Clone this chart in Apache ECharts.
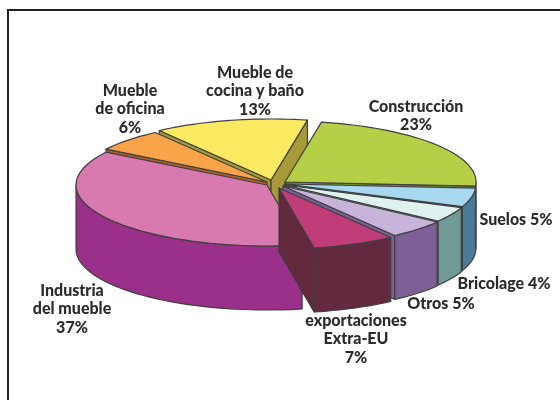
<!DOCTYPE html>
<html><head><meta charset="utf-8">
<style>html,body{margin:0;padding:0;background:#fff}#c{width:560px;height:400px}</style>
<script src="https://cdn.jsdelivr.net/npm/echarts@6/dist/echarts.min.js"></script>
</head><body><div id="c"></div>
<script>
const categories = ['Construcción','Suelos','Bricolage','Otros','exportaciones\nExtra-EU','Industria\ndel mueble','Mueble\nde oficina','Mueble de\ncocina y baño'];
const shares = [23,5,4,5,7,37,6,13];
const topColors = ['#b5d046','#a7d8ef','#dff2f0','#c8b4da','#c13d7a','#d87ab0','#f9a449','#fbe961'];
const sideColors = ['#7f9430','#4a7a98','#6f9a96','#7f5f98','#632a3f','#9b308a','#b0612a','#a79a38'];
const apexX = [285,285,284,283,279,267,267,271];
const apexY = [182,184,185,186,188,185,182,180];
const labelX = [416,516,504,441,356,72,130,255];
const labelY = [116,220,284,304,339,309,109,91];
const drawOrder = [7,6,0,1,2,3,5,4];
const oneLine = [false,true,true,true,false,false,false,false];
const startDeg = -79, rx = 191, ry = 61, depth = 64, edge = '#3f3f3f';

const total = shares.reduce((a,b)=>a+b,0);
const from = [], to = [];
shares.reduce((acc,v,i)=>{from[i]=acc; to[i]=acc+v/total*360; return to[i];}, startDeg);

function pt(i,deg,dz){const t=deg*Math.PI/180;return [apexX[i]+rx*Math.cos(t),apexY[i]+ry*Math.sin(t)+dz];}
function arc(i,a,b,dz){const out=[];const n=Math.max(2,Math.ceil(Math.abs(b-a)/2));for(let k=0;k<=n;k++)out.push(pt(i,a+(b-a)*k/n,dz));return out;}
function poly(points,fill,w){return {type:'polygon',shape:{points},style:{fill,stroke:edge,lineWidth:w||1.2,lineJoin:'round'}};}
function cut(i,deg){const p=pt(i,deg,0),q=pt(i,deg,depth);return poly([[apexX[i],apexY[i]],p,q,[apexX[i],apexY[i]+depth]],sideColors[i]);}
function cosd(d){return Math.cos(d*Math.PI/180);}

function renderItem(params,api){
  const i=api.value(0), a=from[i], b=to[i], kids=[];
  if(cosd(a)<0) kids.push(cut(i,a));
  if(cosd(b)>0) kids.push(cut(i,b));
  const lo=Math.max(a,0), hi=Math.min(b,180);
  if(hi>lo) kids.push(poly(arc(i,lo,hi,0).concat(arc(i,hi,lo,depth)),sideColors[i]));
  kids.push(poly([[apexX[i],apexY[i]]].concat(arc(i,a,b,0)),topColors[i]));
  const text=categories[i]+(oneLine[i]?' ':'\n')+api.value(1)+'%';
  kids.push({type:'text',z2:10,style:{text,x:labelX[i],y:labelY[i],align:'center',verticalAlign:'middle',
    font:'900 16px Lato',lineHeight:18.5,fill:'#2b2b2b'}});
  return {type:'group',children:kids};
}

const chart=echarts.init(document.getElementById('c'),null,{renderer:'canvas'});
chart.setOption({
  animation:false,
  backgroundColor:'#fff',
  graphic:[{type:'polyline',silent:true,shape:{points:[[8,402],[8,10],[562,10]]},style:{fill:null,stroke:'#231f20',lineWidth:2}}],
  series:[{type:'custom',coordinateSystem:'none',silent:true,renderItem,
    data:drawOrder.map(i=>[i,shares[i]]),encode:{}}]
});
</script></body></html>
